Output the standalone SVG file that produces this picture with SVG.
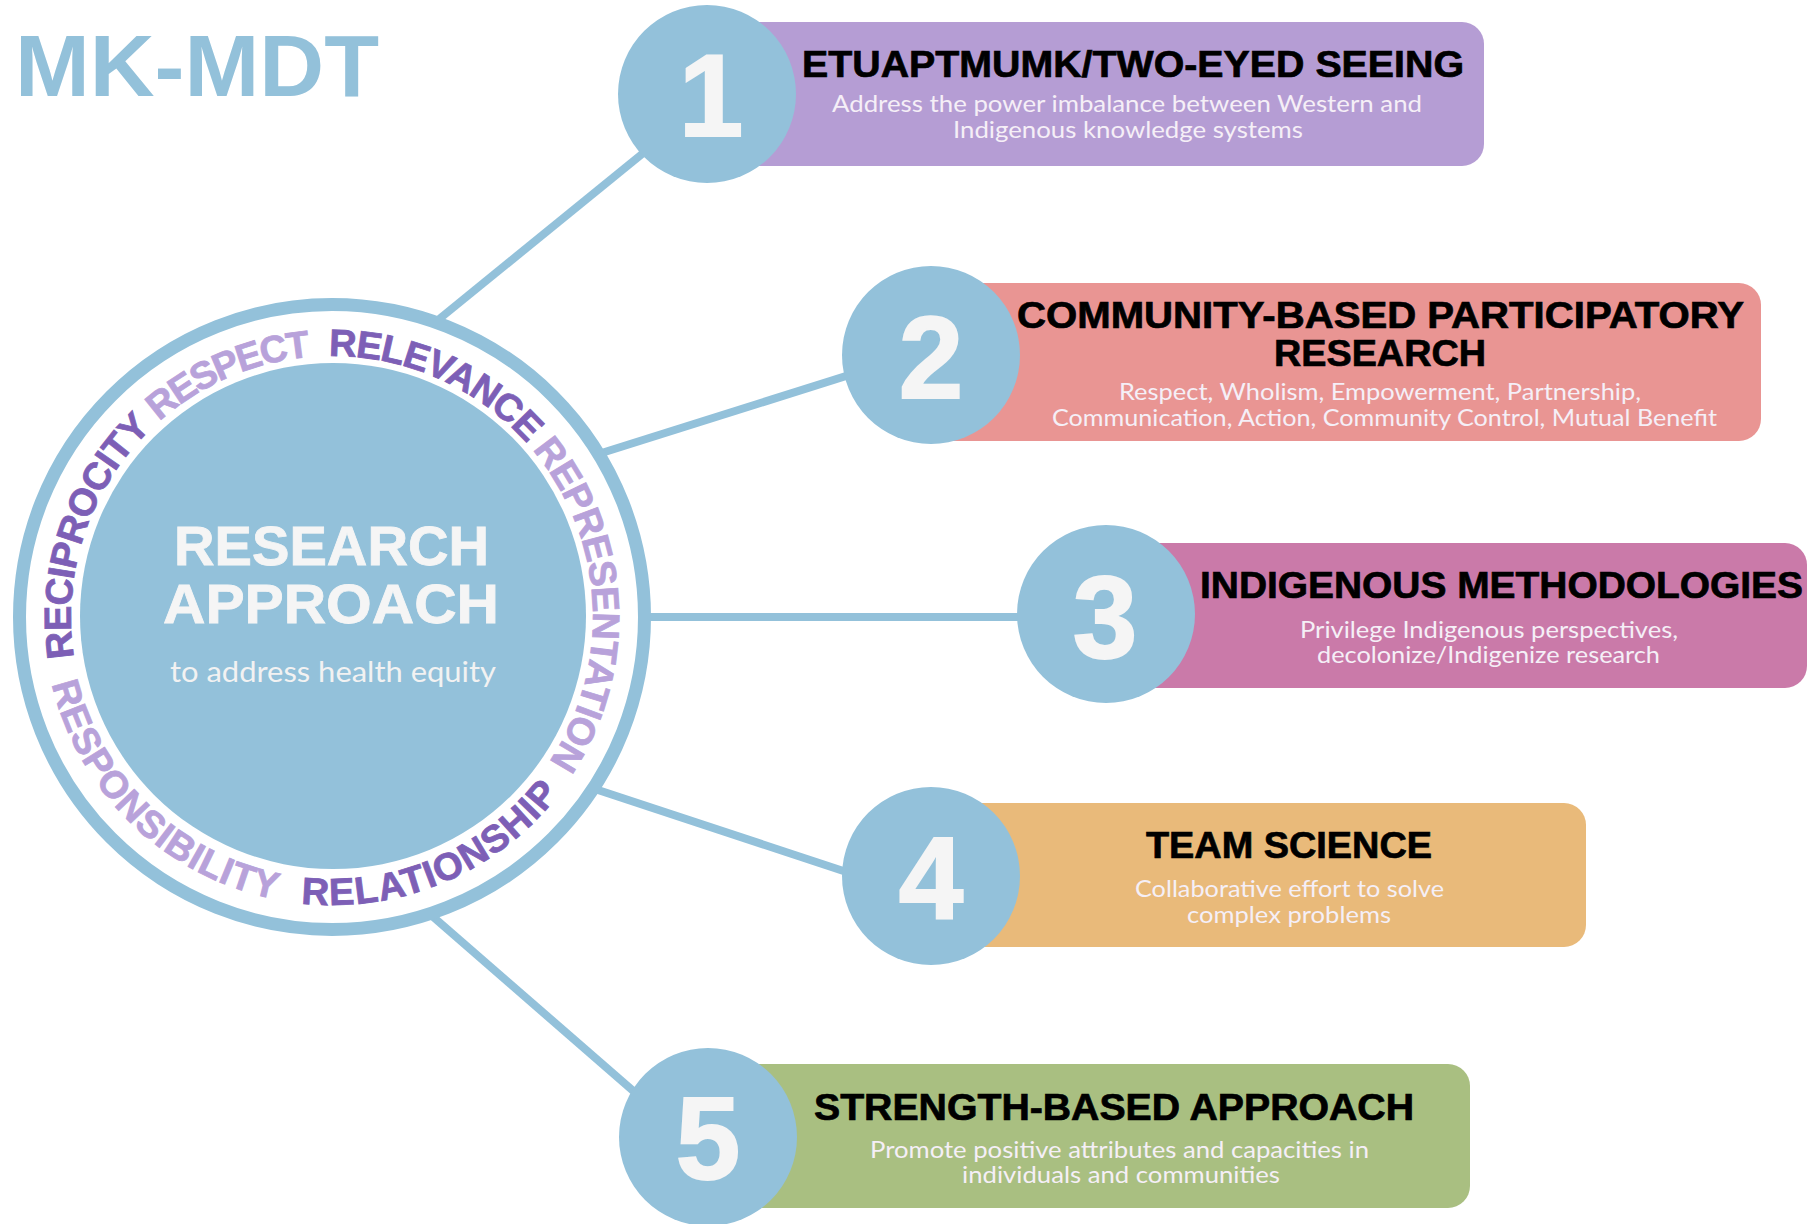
<svg xmlns="http://www.w3.org/2000/svg" width="1818" height="1224" viewBox="0 0 1818 1224">
<style>
.bg{fill:#ffffff}
.conn{stroke:#93c1da;stroke-width:8;fill:none;stroke-linecap:butt}
.num-c{fill:#93c1da}
.num{font-family:"Liberation Sans",Arial,sans-serif;font-weight:bold;font-size:116px;fill:#f5f5f5;stroke:#f5f5f5;stroke-width:2;text-anchor:middle}
.title{font-family:"Liberation Sans",Arial,sans-serif;font-weight:bold;font-size:37px;fill:#000000;stroke:#000000;stroke-width:0.7;text-anchor:middle}
.sub{font-family:Lato,"Open Sans",sans-serif;font-size:22.5px;fill:#f5eff7;text-anchor:middle}
.ring{fill:none;stroke:#93c1da;stroke-width:13}
.word{font-family:"Liberation Sans",Arial,sans-serif;font-weight:bold;font-size:38px;stroke-width:0.8;text-anchor:middle}
.dark{fill:#7d5fb6;stroke:#7d5fb6}
.light{fill:#b8a2da;stroke:#b8a2da}
.big{font-family:"Liberation Sans",Arial,sans-serif;font-weight:bold;font-size:55px;fill:#f5f5f5;stroke:#f5f5f5;stroke-width:0.8;text-anchor:middle}
</style>
<defs>
<path id="topArc" d="M147.45,801.55 A261,261 0 0 1 332,356 A261,261 0 0 1 516.55,801.55"/>
<path id="botArc" d="M82.58,473 A288,288 0 0 0 332,905 A288,288 0 0 0 581.42,473"/>
</defs>
<rect class="bg" x="0" y="0" width="1818" height="1224"/>
<text id="heading" x="15" y="96" font-family="'Liberation Sans',Arial,sans-serif" font-weight="bold" font-size="88" fill="#93c1da" textLength="364" lengthAdjust="spacingAndGlyphs">MK-MDT</text>
<g id="connectors">
<line class="conn" x1="438" y1="320" x2="690" y2="115"/>
<line class="conn" x1="600" y1="453.5" x2="900" y2="359"/>
<line class="conn" x1="645" y1="617" x2="1070" y2="617"/>
<line class="conn" x1="598" y1="790" x2="898" y2="889"/>
<line class="conn" x1="431" y1="915" x2="677" y2="1129"/>
</g>
<g id="center">
<circle cx="332" cy="617" r="312.5" class="ring"/>
<circle cx="333" cy="616" r="253" fill="#93c1da"/>
<text class="word dark" letter-spacing="-0.8"><textPath href="#topArc" startOffset="289.7">RECIPROCITY</textPath></text>
<text class="word light" letter-spacing="-2"><textPath href="#topArc" startOffset="508.8">RESPECT</textPath></text>
<text class="word dark" letter-spacing="-1"><textPath href="#topArc" startOffset="722.9">RELEVANCE</textPath></text>
<text class="word light" letter-spacing="-0.7"><textPath href="#topArc" startOffset="1010.4">REPRESENTATION</textPath></text>
<text class="word light" letter-spacing="0.85"><textPath href="#botArc" startOffset="382.5">RESPONSIBILITY</textPath></text>
<text class="word dark" letter-spacing="1.2"><textPath href="#botArc" startOffset="719.3">RELATIONSHIP</textPath></text>
<text class="big" x="331.5" y="565" textLength="315" lengthAdjust="spacingAndGlyphs">RESEARCH</text>
<text class="big" x="331" y="623" textLength="336" lengthAdjust="spacingAndGlyphs">APPROACH</text>
<text x="333" y="682" font-family="Lato,'Open Sans',sans-serif" font-size="29" fill="#f2f2f2" text-anchor="middle" textLength="326" lengthAdjust="spacingAndGlyphs">to address health equity</text>
</g>
<g id="node1">
<rect x="707" y="22" width="777" height="144" rx="22" fill="#b59dd4"/>
<circle class="num-c" cx="707" cy="94" r="89"/>
<text class="num" x="711" y="136">1</text>
<text class="title" x="1133" y="77" textLength="662" lengthAdjust="spacingAndGlyphs">ETUAPTMUMK/TWO-EYED SEEING</text>
<text class="sub" x="1127" y="112" textLength="590" lengthAdjust="spacingAndGlyphs">Address the power imbalance between Western and</text>
<text class="sub" x="1128" y="138" textLength="350" lengthAdjust="spacingAndGlyphs">Indigenous knowledge systems</text>
</g>
<g id="node2">
<rect x="930" y="283" width="831" height="158" rx="22" fill="#e99593"/>
<circle class="num-c" cx="931" cy="355" r="89"/>
<text class="num" x="931" y="398">2</text>
<text class="title" x="1380.5" y="328" textLength="727" lengthAdjust="spacingAndGlyphs">COMMUNITY-BASED PARTICIPATORY</text>
<text class="title" x="1380" y="366" textLength="212" lengthAdjust="spacingAndGlyphs">RESEARCH</text>
<text class="sub" x="1380" y="400" textLength="522" lengthAdjust="spacingAndGlyphs">Respect, Wholism, Empowerment, Partnership,</text>
<text class="sub" x="1384.5" y="426" textLength="665" lengthAdjust="spacingAndGlyphs">Communication, Action, Community Control, Mutual Benefit</text>
</g>
<g id="node3">
<rect x="1106" y="543" width="701" height="145" rx="22" fill="#ca7aa9"/>
<circle class="num-c" cx="1106" cy="614" r="89"/>
<text class="num" x="1105" y="658">3</text>
<text class="title" x="1501.5" y="598" textLength="603" lengthAdjust="spacingAndGlyphs">INDIGENOUS METHODOLOGIES</text>
<text class="sub" x="1489" y="638" textLength="378" lengthAdjust="spacingAndGlyphs">Privilege Indigenous perspectives,</text>
<text class="sub" x="1488.5" y="663" textLength="343" lengthAdjust="spacingAndGlyphs">decolonize/Indigenize research</text>
</g>
<g id="node4">
<rect x="931" y="803" width="655" height="144" rx="22" fill="#e9ba7a"/>
<circle class="num-c" cx="931" cy="876" r="89"/>
<text class="num" x="931" y="918">4</text>
<text class="title" x="1289" y="858" textLength="286" lengthAdjust="spacingAndGlyphs">TEAM SCIENCE</text>
<text class="sub" x="1289.5" y="897" textLength="309" lengthAdjust="spacingAndGlyphs">Collaborative effort to solve</text>
<text class="sub" x="1289" y="923" textLength="204" lengthAdjust="spacingAndGlyphs">complex problems</text>
</g>
<g id="node5">
<rect x="708" y="1064" width="762" height="144" rx="22" fill="#a9bf81"/>
<circle class="num-c" cx="708" cy="1137" r="89"/>
<text class="num" x="708" y="1179">5</text>
<text class="title" x="1114" y="1120" textLength="600" lengthAdjust="spacingAndGlyphs">STRENGTH-BASED APPROACH</text>
<text class="sub" x="1119.5" y="1158" textLength="499" lengthAdjust="spacingAndGlyphs">Promote positive attributes and capacities in</text>
<text class="sub" x="1121" y="1183" textLength="318" lengthAdjust="spacingAndGlyphs">individuals and communities</text>
</g>
</svg>
